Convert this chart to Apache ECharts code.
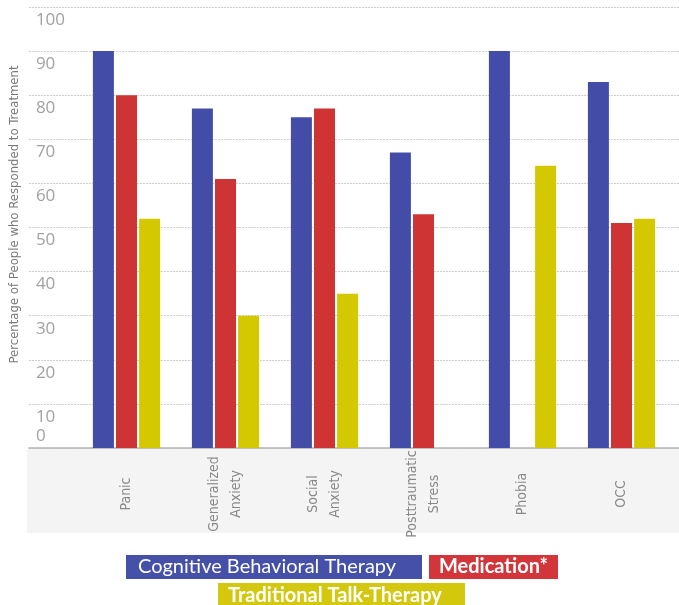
<!DOCTYPE html>
<html>
<head>
<meta charset="utf-8">
<script src="https://cdn.jsdelivr.net/npm/echarts/dist/echarts.min.js"></script>
<style>
  html, body { margin: 0; padding: 0; background: #ffffff; }
  #chart { width: 679px; height: 605px; }
</style>
</head>
<body>
<div id="chart"></div>
<script>
// Disorders along the x axis
const categories = ['Panic', 'Generalized\nAnxiety', 'Social\nAnxiety', 'Posttraumatic\nStress', 'Phobia', 'OCC'];

// Percentage of people who responded, per treatment
const cbtValues = [90, 77, 75, 67, 90, 83];
const medicationValues = [80, 61, 77, 53, null, 51];
const talkTherapyValues = [52, 30, 35, null, 64, 52];

const seriesNames = ['Cognitive Behavioral Therapy', 'Medication*', 'Traditional Talk-Therapy'];
const yTicks = [0, 10, 20, 30, 40, 50, 60, 70, 80, 90, 100];

const COLORS = { cbt: '#434ca6', med: '#cf3434', talk: '#d4c900' };
const NARROW = '"Liberation Sans Narrow", "DejaVu Sans Condensed", "Arial Narrow", sans-serif';
const LEGEND_FONT = 'Lato, sans-serif';

const chart = echarts.init(document.getElementById('chart'), null, { renderer: 'canvas' });

const yMin = yTicks[0];
const yMax = yTicks[yTicks.length - 1];
const yStep = yTicks[1] - yTicks[0];

chart.setOption({
  animation: false,
  backgroundColor: '#ffffff',
  graphic: [{
    type: 'rect',
    z: -10,
    shape: { x: 27, y: 449, width: 652, height: 84 },
    style: { fill: '#f4f4f4' }
  }],
  grid: [
    // full-width grid: gridlines, tick labels, baseline
    { left: 27, right: 0, top: 7, bottom: 157 },
    // bars
    { left: 77, right: 8, top: 7, bottom: 157 }
  ],
  xAxis: [
    {
      gridIndex: 0,
      type: 'category',
      data: [''],
      axisLine: { show: true, lineStyle: { color: '#b4b4b4', width: 1.5 } },
      axisTick: { show: false },
      axisLabel: { show: false },
      splitLine: { show: false }
    },
    {
      gridIndex: 1,
      type: 'category',
      data: categories,
      axisLine: { show: false },
      axisTick: { show: false },
      axisLabel: {
        interval: 0,
        rotate: 90,
        margin: 46,
        align: 'center',
        verticalAlign: 'middle',
        fontFamily: NARROW,
        fontSize: 14,
        lineHeight: 22,
        color: '#888888'
      }
    }
  ],
  yAxis: [
    {
      gridIndex: 0,
      type: 'value',
      min: yMin,
      max: yMax,
      interval: yStep,
      name: 'Percentage of People who Responded to Treatment',
      nameLocation: 'middle',
      nameRotate: 90,
      nameGap: 7,
      nameTextStyle: {
        fontFamily: NARROW,
        fontSize: 13,
        color: '#7a7a7a',
        padding: [0, 0, 0, 26]
      },
      axisLine: { show: false },
      axisTick: { show: false },
      splitLine: { show: true, lineStyle: { color: '#cdcdcd', type: [2, 1], width: 1 } },
      axisLabel: {
        inside: true,
        margin: 7,
        align: 'left',
        verticalAlign: 'middle',
        formatter: v => (v === 0 ? '{z|' + v + '}' : '{n|' + v + '}'),
        rich: {
          n: { fontFamily: '"Open Sans", sans-serif', fontSize: 17, color: '#a2a2a2', padding: [26, 0, 0, 0] },
          z: { fontFamily: '"Open Sans", sans-serif', fontSize: 17, color: '#a2a2a2', padding: [0, 0, 24, 0] }
        }
      }
    },
    {
      gridIndex: 1,
      type: 'value',
      min: yMin,
      max: yMax,
      interval: yStep,
      show: false,
      splitLine: { show: false }
    }
  ],
  legend: [
    {
      left: 121,
      top: 555,
      padding: 0,
      itemWidth: 0,
      itemHeight: 0,
      itemGap: 2,
      icon: 'rect',
      selectedMode: false,
      data: [
        {
          name: seriesNames[0],
          textStyle: {
            color: '#ffffff', backgroundColor: '#4550a9',
            fontFamily: LEGEND_FONT, fontSize: 20,
            width: 284, height: 20, padding: [2, 0, 2, 12]
          }
        },
        {
          name: seriesNames[1],
          textStyle: {
            color: '#ffffff', backgroundColor: '#d3363a',
            fontFamily: LEGEND_FONT, fontSize: 20, fontWeight: 'bold',
            width: 119, height: 20, padding: [2, 0, 2, 10]
          }
        }
      ]
    },
    {
      left: 213,
      top: 583,
      padding: 0,
      itemWidth: 0,
      itemHeight: 0,
      icon: 'rect',
      selectedMode: false,
      data: [
        {
          name: seriesNames[2],
          textStyle: {
            color: '#ffffff', backgroundColor: '#d3c80e',
            fontFamily: LEGEND_FONT, fontSize: 20, fontWeight: 'bold',
            width: 237, height: 22, padding: [1, 0, 3, 10]
          }
        }
      ]
    }
  ],
  series: [
    {
      name: seriesNames[0], type: 'bar', xAxisIndex: 1, yAxisIndex: 1,
      data: cbtValues, barWidth: 21, barGap: '10%',
      itemStyle: { color: COLORS.cbt }
    },
    {
      name: seriesNames[1], type: 'bar', xAxisIndex: 1, yAxisIndex: 1,
      data: medicationValues, barWidth: 21, barGap: '10%',
      itemStyle: { color: COLORS.med }
    },
    {
      name: seriesNames[2], type: 'bar', xAxisIndex: 1, yAxisIndex: 1,
      data: talkTherapyValues, barWidth: 21, barGap: '10%',
      itemStyle: { color: COLORS.talk }
    }
  ]
});
</script>
</body>
</html>
